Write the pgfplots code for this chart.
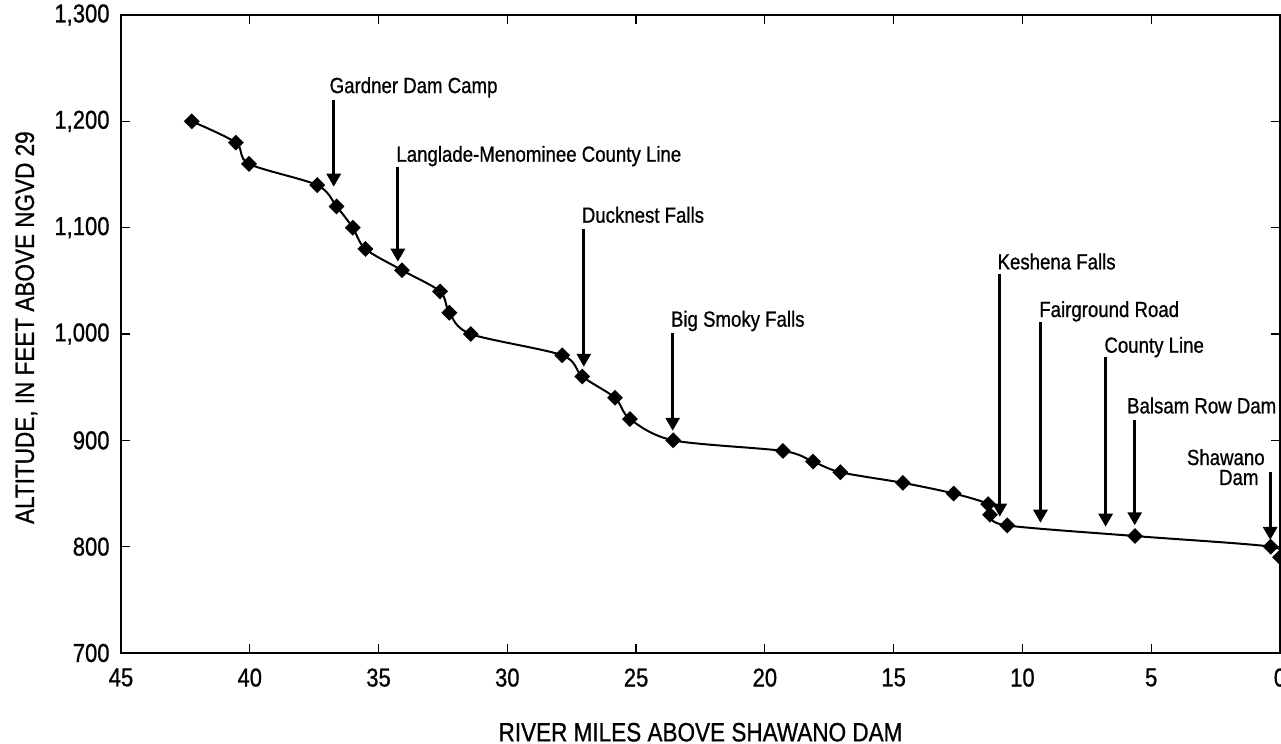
\documentclass[border=0pt]{standalone}
\usepackage{fontspec}
\setmainfont{Liberation Sans}[FakeStretch=0.85, FakeBold=0.8]
\usepackage{pgfplots}
\pgfplotsset{compat=1.18}
\usetikzlibrary{arrows.meta}
\tikzset{ann/.style={line width=1.5bp, -{Triangle[length=6.5bp,width=7bp]}},
  lab/.style={inner sep=0pt, font=\fontsize{11}{13}\selectfont}}
\begin{document}
\begin{tikzpicture}
\begin{axis}[
  scale only axis,
  width=579.5bp, height=319bp,
  xmin=0, xmax=45, x dir=reverse,
  ymin=700, ymax=1300,
  xtick={0,5,...,45}, ytick={700,800,...,1300},
  /pgf/number format/assume math mode=true,
  /pgf/number format/1000 sep={,},
  tick align=inside,
  major tick length=4.5bp,
  axis line style={line width=0.75bp},
  every tick/.style={line width=0.6bp, black},
  tick label style={font=\fontsize{13}{15}\selectfont},
  xticklabel style={yshift=-4.2bp},
  yticklabel style={xshift=-2.2bp},
  label style={font=\fontsize{13.3}{15}\selectfont},
  xlabel={RIVER MILES ABOVE SHAWANO DAM},
  ylabel={ALTITUDE, IN FEET ABOVE NGVD 29},
  xlabel style={at={(axis description cs:0.5,-0.1385)}, anchor=base},
  ylabel style={at={(axis description cs:-0.0751,0.51)}, anchor=base},
  clip=false,
]
\addplot[black, line width=1bp, smooth, tension=0.5,
  mark=square*, mark size=2.3bp, mark options={rotate=45, solid, fill=black}]
coordinates {
 (42.25,1200) (40.54,1180) (40.03,1160) (37.38,1140) (36.63,1120)
 (36.00,1100) (35.51,1080) (34.09,1060) (32.61,1040) (32.25,1020)
 (31.42,1000) (27.87,980) (27.09,960) (25.82,940) (25.24,920)
 (23.56,900) (19.30,890) (18.13,880) (17.07,870) (14.64,860)
 (12.67,850) (11.33,840) (11.26,830) (10.59,820) (5.63,810)
 (0.36,800) (0.0,790)
};
\draw[ann] (axis cs:36.74,1220.1) -- (axis cs:36.74,1138.5);
\node[lab, anchor=base west] at (axis cs:36.91,1226.6) {Gardner Dam Camp};
\draw[ann] (axis cs:34.25,1157.3) -- (axis cs:34.25,1068.0);
\node[lab, anchor=base west] at (axis cs:34.32,1162.0) {Langlade-Menominee County Line};
\draw[ann] (axis cs:27.03,1098.5) -- (axis cs:27.03,969.2);
\node[lab, anchor=base west] at (axis cs:27.12,1104.7) {Ducknest Falls};
\draw[ann] (axis cs:23.58,1000.6) -- (axis cs:23.58,909.0);
\node[lab, anchor=base west] at (axis cs:23.66,1006.9) {Big Smoky Falls};
\draw[ann] (axis cs:10.88,1056.1) -- (axis cs:10.88,828.2);
\node[lab, anchor=base west] at (axis cs:10.98,1060.8) {Keshena Falls};
\draw[ann] (axis cs:9.30,1011.6) -- (axis cs:9.30,822.5);
\node[lab, anchor=base west] at (axis cs:9.36,1016.0) {Fairground Road};
\draw[ann] (axis cs:6.77,978.6) -- (axis cs:6.77,818.8);
\node[lab, anchor=base west] at (axis cs:6.83,982.4) {County Line};
\draw[ann] (axis cs:5.64,919.1) -- (axis cs:5.64,820.1);
\node[lab, anchor=base west] at (axis cs:5.95,925.4) {Balsam Row Dam};
\draw[ann] (axis cs:0.38,870.5) -- (axis cs:0.38,806.3);
\node[lab, anchor=base east] at (axis cs:0.58,876.8) {Shawano};
\node[lab, anchor=base east] at (axis cs:0.82,858.0) {Dam};
\end{axis}
\pgfresetboundingbox
\path[use as bounding box] (-60.5bp,-45.5bp) rectangle (580bp,326.5bp);
\end{tikzpicture}
\end{document}
